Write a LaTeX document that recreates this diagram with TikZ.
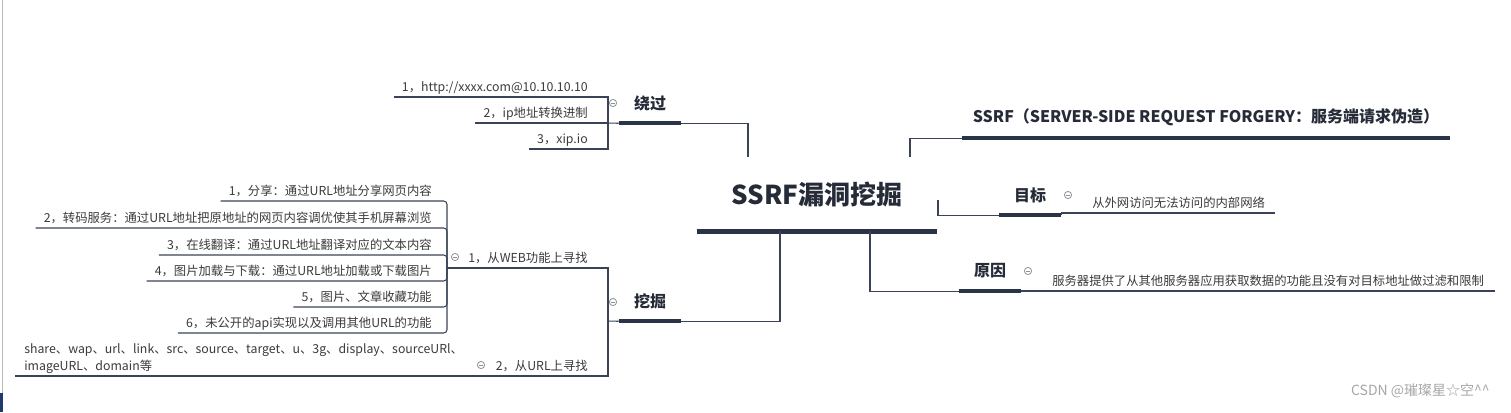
\documentclass[tikz,border=0pt]{standalone}
\usepackage{fontspec}
\setmainfont{Noto Sans CJK SC}
\usepackage{xcolor}
\usepackage{tikz}

\definecolor{wirecol}{HTML}{3B4456}
\definecolor{barcol}{HTML}{2B3447}
\definecolor{topiccol}{HTML}{262B38}
\definecolor{leafcol}{HTML}{3A3A3A}
\definecolor{foldcol}{HTML}{8C9099}
\definecolor{markcol}{HTML}{A6A6A6}
\definecolor{edgecol}{HTML}{B8B8B8}
\definecolor{edgenavy}{HTML}{1F3A6E}

\begin{document}
\begin{tikzpicture}[x=0.75pt,y=-0.75pt,
  wire/.style={draw=wirecol,line width=0.8pt},
  bar/.style={draw=barcol,line width=3pt},
  leaf/.style={inner sep=0pt,text=leafcol,font=\fontsize{9.25}{11}\selectfont},
  topic/.style={inner xsep=11.25pt,inner ysep=0pt,minimum height=30pt,
    text=topiccol,font=\fontsize{12}{14}\selectfont\bfseries},
  fold/.style={circle,draw=foldcol,line width=0.6pt,minimum size=5.4pt,inner sep=0pt,
    path picture={\draw[foldcol,line width=0.6pt]
      ([xshift=1.2pt]path picture bounding box.west) --
      ([xshift=-1.2pt]path picture bounding box.east);}}]
  \useasboundingbox (0,0) rectangle (1511,412);

  % edge of the screenshot
  \draw[edgecol,line width=0.75pt] (2.5,0) -- (2.5,412);
  \fill[edgenavy] (0,393) rectangle (3,412);

  % centre
  \node[topic,font=\fontsize{19.5}{22}\selectfont\bfseries,
    minimum width=180pt,minimum height=54pt] (ctr) at (817,195) {SSRF漏洞挖掘};
  \draw[bar,line width=3.75pt] (ctr.south west) -- (ctr.south east);
  \coordinate (hubA) at (748,157);
  \coordinate (hubB) at (910,157);
  \coordinate (hubC) at (938,200);
  \coordinate (hubD) at (870,231);
  \coordinate (hubE) at (780,231);

  % bypass
  \node[topic] (rao) at (650,103) {绕过};
  \node[fold] (fRao) at (613,103) {};
  \draw[bar] (rao.south west) -- (rao.south east);
  \draw[wire] (rao.south east) -| (hubA);
  \coordinate (kRao) at (608,123);
  \draw[wire] (kRao) -- (rao.south west);
  \node[leaf,anchor=base east] (r1) at (588,91) {1，http://xxxx.com@10.10.10.10};
  \node[leaf,anchor=base east] (r2) at (588,117) {2，ip地址转换进制};
  \node[leaf,anchor=base east] (r3) at (588,143) {3，xip.io};
  \foreach \n in {r1,r2,r3}
    \draw[wire] (\n.base west) ++(-8,6) -| (kRao);

  % title
  \node[topic,inner xsep=0pt,minimum width=366pt,minimum height=31.5pt]
    (ttl) at (1206,117) {SSRF（SERVER-SIDE REQUEST FORGERY：服务端请求伪造）};
  \draw[bar] (ttl.south west) -- (ttl.south east);
  \draw[wire] (hubB) |- (ttl.south west);

  % aim
  \node[topic] (goal) at (1030,195) {目标};
  \node[fold] (fGoal) at (1068,195) {};
  \draw[wire] (hubC) |- (goal.south west);
  \draw[bar] (goal.south west) -- (goal.south east);
  \node[leaf,anchor=base west] (g1) at (1092,207) {从外网访问无法访问的内部网络};
  \draw[wire] (g1.base east) ++(10,6) -| (goal.south east);

  % cause
  \node[topic] (why) at (990,271) {原因};
  \node[fold] (fWhy) at (1028,271) {};
  \draw[wire] (hubD) |- (why.south west);
  \draw[bar] (why.south west) -- (why.south east);
  \node[leaf,anchor=base west] (w1) at (1052,285)
    {服务器提供了从其他服务器应用获取数据的功能且没有对目标地址做过滤和限制};
  \draw[wire] (w1.base east) ++(11,6) -| (why.south east);

  % digging
  \node[topic] (dig) at (650,301) {挖掘};
  \node[fold] (fDig) at (613,302) {};
  \draw[wire] (hubE) |- (dig.south east);
  \draw[bar] (dig.south west) -- (dig.south east);
  \coordinate (kDig) at (608,321);
  \draw[wire] (kDig) -- (dig.south west);

  % web functions
  \node[leaf,anchor=base west] (web) at (468,262) {1，从WEB功能上寻找};
  \node[fold] (fWeb) at (455,257) {};
  \coordinate (kWeb) at (447,268);
  \draw[wire] (kWeb) -| (kDig);
  \node[leaf,anchor=base east] (s1) at (432,195) {1，分享：通过URL地址分享网页内容};
  \node[leaf,anchor=base east] (s2) at (432,222) {2，转码服务：通过URL地址把原地址的网页内容调优使其手机屏幕浏览};
  \node[leaf,anchor=base east] (s3) at (432,249) {3，在线翻译：通过URL地址翻译对应的文本内容};
  \node[leaf,anchor=base east] (s4) at (432,275) {4，图片加载与下载：通过URL地址加载或下载图片};
  \node[leaf,anchor=base east] (s5) at (432,301) {5，图片、文章收藏功能};
  \node[leaf,anchor=base east] (s6) at (432,327) {6，未公开的api实现以及调用其他URL的功能};
  \foreach \n in {s1,s2,s3,s4,s5,s6}
    \draw[wire,rounded corners=2.5pt] (\n.base west) ++(-8,6) -| (kWeb);

  % url parameters
  \node[leaf,anchor=base east] (url) at (588,370) {2，从URL上寻找};
  \node[fold] (fUrl) at (481,365) {};
  \node[leaf,anchor=south west,align=left,inner xsep=6.75pt,inner ysep=1.5pt,
    font=\fontsize{9.25}{12.75}\selectfont] (urlNote) at (15,376)
    {share、wap、url、link、src、source、target、u、3g、display、sourceURl、\\imageURL、domain等};
  \coordinate (kUrl) at (473,376);
  \draw[wire] (urlNote.south west) -- (kUrl);
  \draw[wire] (kUrl) -| (kDig);

  % watermark
  \node[text=markcol,font=\fontsize{10.5}{13}\selectfont,anchor=east,inner sep=0pt]
    (mark) at (1490,391) {CSDN @璀璨星☆空\textasciicircum\textasciicircum};
\end{tikzpicture}
\end{document}
